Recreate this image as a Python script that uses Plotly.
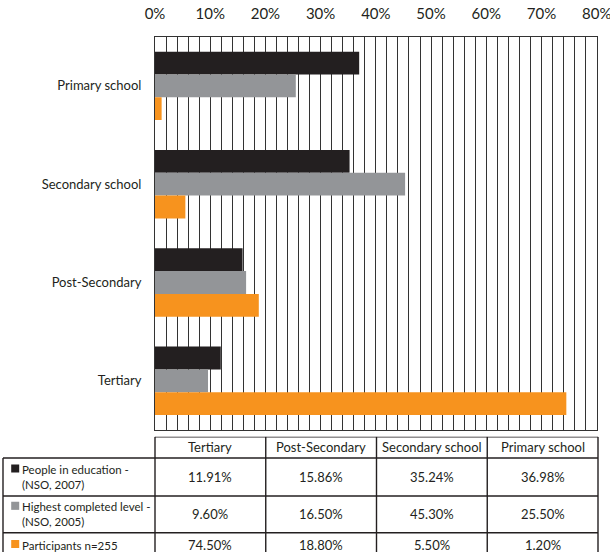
import plotly.graph_objects as go

# table column order (as in the source table)
levels = ["Tertiary", "Post-Secondary", "Secondary school", "Primary school"]

series_names = ["People in education - (NSO, 2007)",
                "Highest completed level - (NSO, 2005)",
                "Participants n=255"]
legend_labels = ["People in education -<br>(NSO, 2007)",
                 "Highest completed level -<br>(NSO, 2005)",
                 "Participants n=255"]

people_in_education = [11.91, 15.86, 35.24, 36.98]
highest_completed = [9.60, 16.50, 45.30, 25.50]
participants = [74.50, 18.80, 5.50, 1.20]

x_ticks = [0, 10, 20, 30, 40, 50, 60, 70, 80]

COLORS = ["#231f20", "#939598", "#f7931e"]
TEXT = "#231f20"
GRID = "#333333"
FONT = "Lato"

W, H = 610, 552

fig = go.Figure()

series = [people_in_education, highest_completed, participants]
for name, vals, col in zip(series_names, series, COLORS):
    fig.add_trace(go.Bar(
        y=levels,
        x=vals,
        orientation="h",
        name=name,
        marker=dict(color=col, line=dict(width=0)),
        showlegend=False,
    ))

# ---- data table under the chart, drawn on its own (hidden) axes in pixel units
TABLE_TOP = 436.7                      # px from the top of the figure
col_edges = [3, 155, 265.75, 376.5, 487.25, 598]
row_edges = [0, 21.3, 59.3, 96.0, 122.0]   # header, 3 data rows (below table top)
LINE_W = 1.4

shapes = []


def hline(y, x0, x1):
    shapes.append(dict(type="line", xref="x2", yref="y2", x0=x0, x1=x1, y0=y, y1=y,
                       line=dict(color=TEXT, width=LINE_W)))


def vline(x, y0, y1):
    shapes.append(dict(type="line", xref="x2", yref="y2", x0=x, x1=x, y0=y0, y1=y1,
                       line=dict(color=TEXT, width=LINE_W)))


hline(row_edges[0], col_edges[1], col_edges[-1])
for y in row_edges[1:]:
    hline(y, col_edges[0], col_edges[-1])
vline(col_edges[0], row_edges[1], row_edges[-1])
for x in col_edges[1:]:
    vline(x, row_edges[0], row_edges[-1])

annotations = []
centers_x = [(a + b) / 2 for a, b in zip(col_edges[1:-1], col_edges[2:])]
centers_y = [(a + b) / 2 for a, b in zip(row_edges[1:-1], row_edges[2:])]
centers_y[-1] = 108.3   # last row is cut by the bottom of the picture

for cx, lvl in zip(centers_x, levels):
    annotations.append(dict(xref="x2", yref="y2", x=cx, y=(row_edges[0] + row_edges[1]) / 2,
                            text=lvl, showarrow=False, xanchor="center", yanchor="middle",
                            font=dict(family=FONT, size=13, color=TEXT)))

for cy, vals, lbl in zip(centers_y, series, legend_labels):
    annotations.append(dict(xref="x2", yref="y2", x=20, y=cy, text=lbl, showarrow=False,
                            xanchor="left", yanchor="middle", align="left",
                            font=dict(family=FONT, size=11.5, color=TEXT)))
    for cx, v in zip(centers_x, vals):
        annotations.append(dict(xref="x2", yref="y2", x=cx, y=cy, text=f"{v:.2f}%",
                                showarrow=False, xanchor="center", yanchor="middle",
                                font=dict(family=FONT, size=13, color=TEXT)))

# legend keys in the first column
key_y = [cy - (7.5 if "<br>" in lbl else 0) - 1 for cy, lbl in zip(centers_y, legend_labels)]
fig.add_trace(go.Scatter(
    x=[15.2] * len(COLORS), y=key_y,
    xaxis="x2", yaxis="y2",
    mode="markers",
    marker=dict(symbol="square", size=8, color=COLORS, line=dict(width=0)),
    showlegend=False, hoverinfo="skip",
))

fig.update_layout(
    width=W,
    height=H,
    paper_bgcolor="white",
    plot_bgcolor="white",
    font=dict(family=FONT, color=TEXT),
    margin=dict(l=0, r=0, t=0, b=0, autoexpand=False),
    barmode="group",
    bargap=0.304,
    bargroupgap=0,
    shapes=shapes,
    annotations=annotations,
    xaxis=dict(
        domain=[155 / W, 596.7 / W],
        range=[0, 80],
        side="top",
        tickvals=x_ticks,
        ticktext=[f"{t}%" for t in x_ticks],
        tickfont=dict(size=15, color=TEXT),
        ticks="",
        ticklabelstandoff=11,
        ticklabeloverflow="allow",
        showgrid=True,
        gridcolor=GRID,
        gridwidth=1,
        minor=dict(dtick=2, showgrid=True, gridcolor=GRID, gridwidth=1),
        showline=True,
        linecolor=GRID,
        linewidth=1,
        mirror=True,
        zeroline=False,
        automargin=False,
    ),
    yaxis=dict(
        domain=[(H - 430) / H, (H - 36.7) / H],
        categoryorder="array",
        categoryarray=levels[::-1],
        autorange="reversed",
        tickfont=dict(size=13, color=TEXT),
        ticks="",
        ticklabelstandoff=10,
        showgrid=False,
        showline=True,
        linecolor=GRID,
        mirror=True,
        automargin=False,
    ),
    xaxis2=dict(
        domain=[0, 1], range=[0, W], visible=False, fixedrange=True,
        anchor="y2", automargin=False,
    ),
    yaxis2=dict(
        domain=[0, (H - TABLE_TOP) / H], range=[H - TABLE_TOP, 0], visible=False,
        fixedrange=True, anchor="x2", automargin=False,
    ),
)

fig.write_html("out.html", config={"displayModeBar": False},
               post_script="document.body.style.margin='0';")
